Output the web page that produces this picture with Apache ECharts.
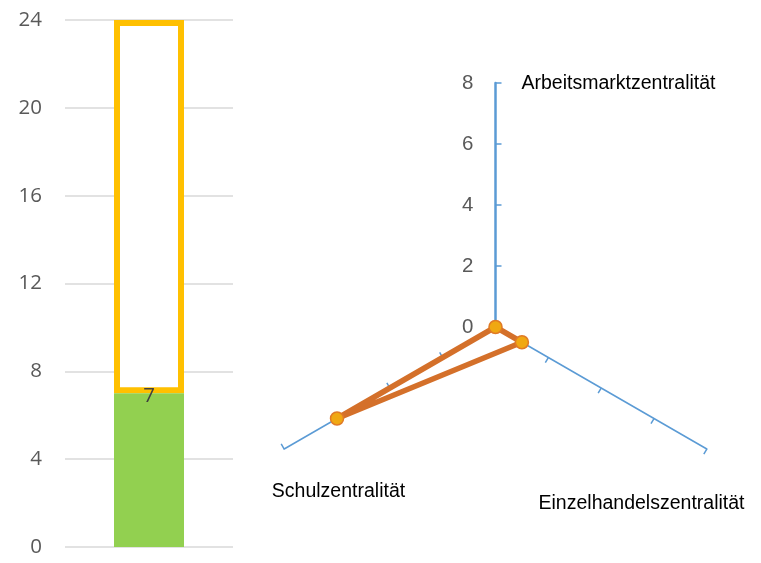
<!DOCTYPE html>
<html>
<head>
<meta charset="utf-8">
<script src="https://cdn.jsdelivr.net/npm/echarts@6/dist/echarts.min.js"></script>
<style>
html,body{margin:0;padding:0;background:#fff;}
#main{width:761px;height:563px;}
</style>
</head>
<body>
<div id="main"></div>
<script>
// ---- data ----
var barCategories = [''];
var currentValues = [7];       // green part
var remainingValues = [17];    // orange outlined part (7 -> 24)
var barTicks = [0, 4, 8, 12, 16, 20, 24];

var radarCategories = ['Arbeitsmarktzentralität', 'Schulzentralität', 'Einzelhandelszentralität'];
var radarValues = [0, 6, 1];
var radarMax = 8;

// ---- layout ----
var radarCenter = [495.5, 327];
var radarRadius = 244;
var nameOffsets = [
  {dx: 123, dy: -243, align: 'center'},
  {dx: -157, dy: 165, align: 'center'},
  {dx: 146, dy: 177, align: 'center'}
];

var chart = echarts.init(document.getElementById('main'), null, {renderer: 'canvas'});

var indicators = radarCategories.map(function (n, i) {
  var ind = {name: n, min: 0, max: radarMax};
  if (i === 0) {
    ind.axisLabel = {show: true};
    ind.axisLine = {lineStyle: {width: 2.5}};
  }
  return ind;
});

var graphics = radarCategories.map(function (n, i) {
  return {
    type: 'text',
    x: radarCenter[0] + nameOffsets[i].dx,
    y: radarCenter[1] + nameOffsets[i].dy,
    style: {
      text: n,
      fill: '#000',
      font: '19.5px "Liberation Sans", Arial, sans-serif',
      textAlign: nameOffsets[i].align,
      textVerticalAlign: 'middle'
    }
  };
});

chart.setOption({
  backgroundColor: '#fff',
  animation: false,
  grid: {left: 65, right: 528, top: 20, bottom: 16},
  xAxis: {
    type: 'category',
    data: barCategories,
    axisLine: {show: false},
    axisTick: {show: false},
    axisLabel: {show: false}
  },
  yAxis: {
    type: 'value',
    min: barTicks[0],
    max: barTicks[barTicks.length - 1],
    interval: barTicks[1] - barTicks[0],
    axisLine: {show: false},
    axisTick: {show: false},
    axisLabel: {
      color: '#595959',
      fontSize: 20.5,
      fontFamily: '"Open Sans", sans-serif',
      margin: 23
    },
    splitLine: {lineStyle: {color: '#d9d9d9', width: 1.5}}
  },
  radar: {
    center: radarCenter,
    radius: radarRadius,
    startAngle: 90,
    splitNumber: 4,
    indicator: indicators,
    axisName: {show: false},
    axisLine: {show: true, lineStyle: {color: '#5b9bd5', width: 1.5}},
    axisTick: {show: true, length: -6, lineStyle: {color: '#5b9bd5', width: 1.5}},
    axisLabel: {
      show: false,
      color: '#595959',
      fontSize: 20.5,
      fontFamily: '"Liberation Sans", Arial, sans-serif',
      margin: 22
    },
    splitLine: {show: false},
    splitArea: {show: false}
  },
  graphic: graphics,
  series: [
    {
      type: 'bar',
      stack: 'total',
      data: currentValues,
      barWidth: 70,
      itemStyle: {color: '#92d050'},
      label: {
        show: true,
        position: 'insideTop',
        distance: -8,
        color: '#404040',
        fontSize: 20.5,
        fontFamily: '"Open Sans", sans-serif'
      },
      z: 3
    },
    {
      type: 'bar',
      stack: 'total',
      data: remainingValues,
      barWidth: 70,
      itemStyle: {color: '#ffffff', borderColor: '#ffc000', borderWidth: 6},
      z: 2
    },
    {
      type: 'radar',
      symbol: 'circle',
      symbolSize: 13,
      lineStyle: {color: '#d4702a', width: 5.5},
      itemStyle: {color: '#f0a812', borderColor: '#e07a26', borderWidth: 1.5},
      data: [{value: radarValues, name: 'Zentralität'}]
    }
  ]
});
</script>
</body>
</html>
